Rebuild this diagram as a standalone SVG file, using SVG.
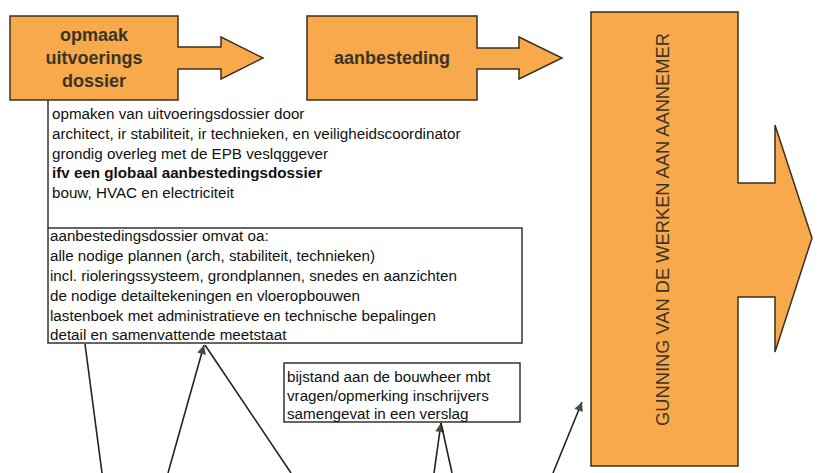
<svg xmlns="http://www.w3.org/2000/svg" width="827" height="473" viewBox="0 0 827 473">
<defs>
<style>
.shape{fill:#F8A94B;stroke:#3a3020;stroke-width:1.5;stroke-linejoin:miter}
.title{font-family:"Liberation Sans",Arial,sans-serif;font-weight:bold;font-size:18px;fill:#3a3428;text-anchor:middle}
.vt{font-family:"Liberation Sans",Arial,sans-serif;font-size:18.3px;fill:#3a3428;text-anchor:middle}
.body{font-family:"Liberation Sans",Arial,sans-serif;font-size:15.2px;fill:#111}
.box{fill:#fff;stroke:#333;stroke-width:1.5}
.conn{stroke:#222;stroke-width:1.6;fill:none}
</style>
<marker id="ah" viewBox="0 0 10 10" refX="10" refY="5" markerWidth="12" markerHeight="9" markerUnits="userSpaceOnUse" orient="auto">
<path d="M0,0 L10,5 L0,10 Z" fill="#4a4a4a"/>
</marker>
</defs>
<rect width="827" height="473" fill="#fff"/>

<g id="opmaak">
<path class="shape" d="M10,16 H178 V47 H221 V37 L263,58 L221,79 V69 H178 V100 H10 Z"/>
<text class="title" x="94" y="41">opmaak</text>
<text class="title" x="94" y="64">uitvoerings</text>
<text class="title" x="94" y="87">dossier</text>
</g>

<g id="aanbesteding">
<path class="shape" d="M307,16 H477 V48 H519 V37 L562,58 L519,79 V69 H477 V100 H307 Z"/>
<text class="title" x="392" y="64">aanbesteding</text>
</g>

<g id="gunning">
<path class="shape" d="M591,12 H738 V183 H775 V125 L812,238 L775,352 V297 H738 V466 H591 Z"/>
<text class="vt" transform="translate(669,229.5) rotate(-90)">GUNNING VAN DE WERKEN AAN AANNEMER</text>
</g>

<g id="toelichting-opmaak">
<line x1="48" y1="100" x2="48" y2="228" stroke="#333" stroke-width="1.5"/>
<text class="body" x="52" y="119">opmaken van uitvoeringsdossier door</text>
<text class="body" x="52" y="139">architect, ir stabiliteit, ir technieken, en veiligheidscoordinator</text>
<text class="body" x="52" y="159">grondig overleg met de EPB veslqggever</text>
<text class="body" x="52" y="178" font-weight="bold">ifv een globaal aanbestedingsdossier</text>
<text class="body" x="52" y="198">bouw, HVAC en electriciteit</text>
</g>

<g id="aanbestedingsdossier">
<rect class="box" x="48" y="228" width="474" height="115"/>
<text class="body" x="50" y="241">aanbestedingsdossier omvat oa:</text>
<text class="body" x="50" y="261">alle nodige plannen (arch, stabiliteit, technieken)</text>
<text class="body" x="50" y="281">incl. rioleringssysteem, grondplannen, snedes en aanzichten</text>
<text class="body" x="50" y="301">de nodige detailtekeningen en vloeropbouwen</text>
<text class="body" x="50" y="321">lastenboek met administratieve en technische bepalingen</text>
<text class="body" x="50" y="340">detail en samenvattende meetstaat</text>
</g>

<g id="bijstand">
<rect class="box" x="284" y="363" width="236" height="59"/>
<text class="body" x="287" y="382">bijstand aan de bouwheer mbt</text>
<text class="body" x="287" y="401">vragen/opmerking inschrijvers</text>
<text class="body" x="287" y="419">samengevat in een verslag</text>
</g>

<g id="connectors">
<line class="conn" x1="85" y1="344" x2="102" y2="473"/>
<line class="conn" x1="168" y1="473" x2="204" y2="345" marker-end="url(#ah)"/>
<line class="conn" x1="291" y1="473" x2="205" y2="345"/>
<line class="conn" x1="434" y1="473" x2="441" y2="423" marker-end="url(#ah)"/>
<line class="conn" x1="452" y1="473" x2="441" y2="423"/>
<line class="conn" x1="553" y1="473" x2="582" y2="402" marker-end="url(#ah)"/>
</g>
</svg>
